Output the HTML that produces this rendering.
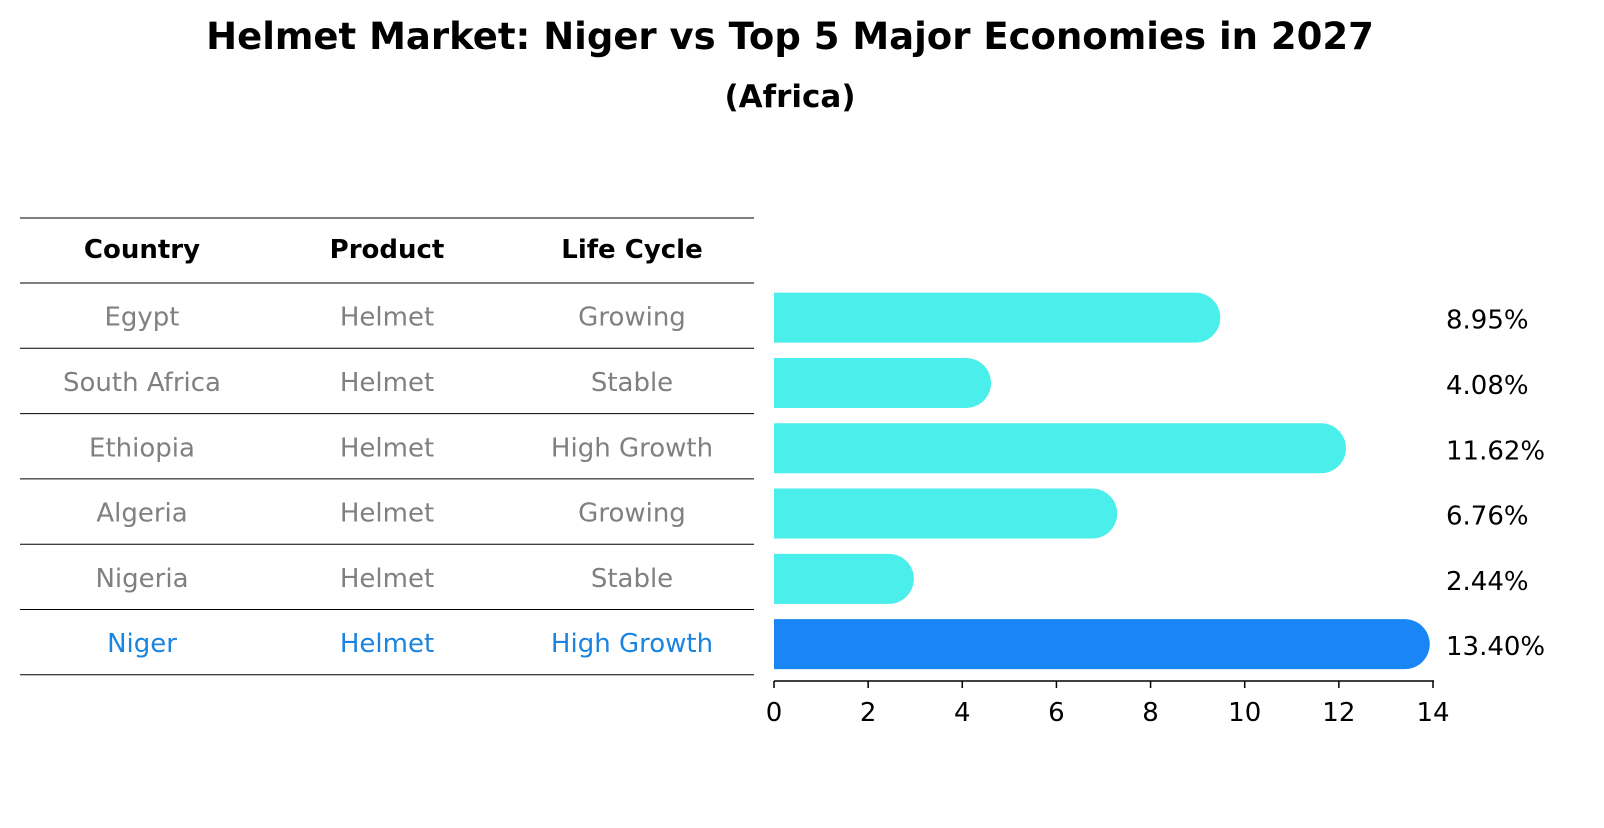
<!DOCTYPE html>
<html><head><meta charset="utf-8"><style>
body{margin:0;background:#fff;font-family:"Liberation Sans","DejaVu Sans",sans-serif;}
</style></head><body>
<svg width="1604" height="823" xmlns="http://www.w3.org/2000/svg" font-family="DejaVu Sans, Liberation Sans, sans-serif">
<text x="790" y="49" text-anchor="middle" font-size="37" font-weight="bold">Helmet Market: Niger vs Top 5 Major Economies in 2027</text>
<text x="790" y="107" text-anchor="middle" font-size="31" font-weight="bold">(Africa)</text>
<g id="table"></g>
<g id="bars"></g>
<g id="axis"></g>
</svg>
<script>
const countries=["Egypt","South Africa","Ethiopia","Algeria","Nigeria","Niger"];
const products=["Helmet","Helmet","Helmet","Helmet","Helmet","Helmet"];
const lifeCycles=["Growing","Stable","High Growth","Growing","Stable","High Growth"];
const values=[8.95,4.08,11.62,6.76,2.44,13.40];
const ticks=[0,2,4,6,8,10,12,14];
const NS="http://www.w3.org/2000/svg";
const x0=774,x1=1433,xmax=14;
const xs=v=>x0+(x1-x0)*v/xmax;
const rowTop=283,rowH=65.3;
const yc=i=>rowTop+rowH*i+rowH/2;
function mk(tag,attrs,parent,text){const e=document.createElementNS(NS,tag);for(const k in attrs)e.setAttribute(k,attrs[k]);if(text!==undefined)e.textContent=text;parent.appendChild(e);return e;}
const tbl=document.getElementById('table');
for(let i=0;i<=countries.length+1;i++){
  const y=i==0?218:rowTop+rowH*(i-1);
  const l=mk('line',{x1:20,x2:754,y1:y,y2:y,stroke:'#000','stroke-width':1},tbl);
  
  
}
const colX=[142,387,632];
["Country","Product","Life Cycle"].forEach((h,j)=>{
  const t=mk('text',{x:colX[j],y:258,'text-anchor':'middle','font-size':26,'font-weight':'bold'},tbl,h);
  
  
});
countries.forEach((c,i)=>{
  const col=i==countries.length-1?'#1a84e0':'#808080';
  [c,products[i],lifeCycles[i]].forEach((v,j)=>{
    const t=mk('text',{x:colX[j],y:yc(i)+10,'text-anchor':'middle','font-size':26,fill:col},tbl,v);
    
    
  });
});
const bars=document.getElementById('bars');
const bh=50,r=25;
values.forEach((v,i)=>{
  const col=i==values.length-1?'#1a85f5':'#4aeeea';
  const y=yc(i)+2-bh/2, xe=xs(v);
  const p=mk('path',{d:`M${x0},${y}H${xe}A${r},${r} 0 0 1 ${xe},${y+bh}H${x0}Z`,fill:col},bars);
  
  
  const t=mk('text',{x:1446,y:yc(i)+13,'font-size':26},bars,v.toFixed(2)+'%');
  
  
});
const ax=document.getElementById('axis');
const al=mk('line',{x1:x0,x2:x1+1,y1:681,y2:681,stroke:'#000','stroke-width':1.5},ax);


ticks.forEach(t=>{
  const l=mk('line',{x1:xs(t),x2:xs(t),y1:681,y2:688,stroke:'#000','stroke-width':1.5},ax);
  
  
  const tx=mk('text',{x:xs(t),y:721,'text-anchor':'middle','font-size':26},ax,String(t));
  
  
});
</script>
</body></html>
